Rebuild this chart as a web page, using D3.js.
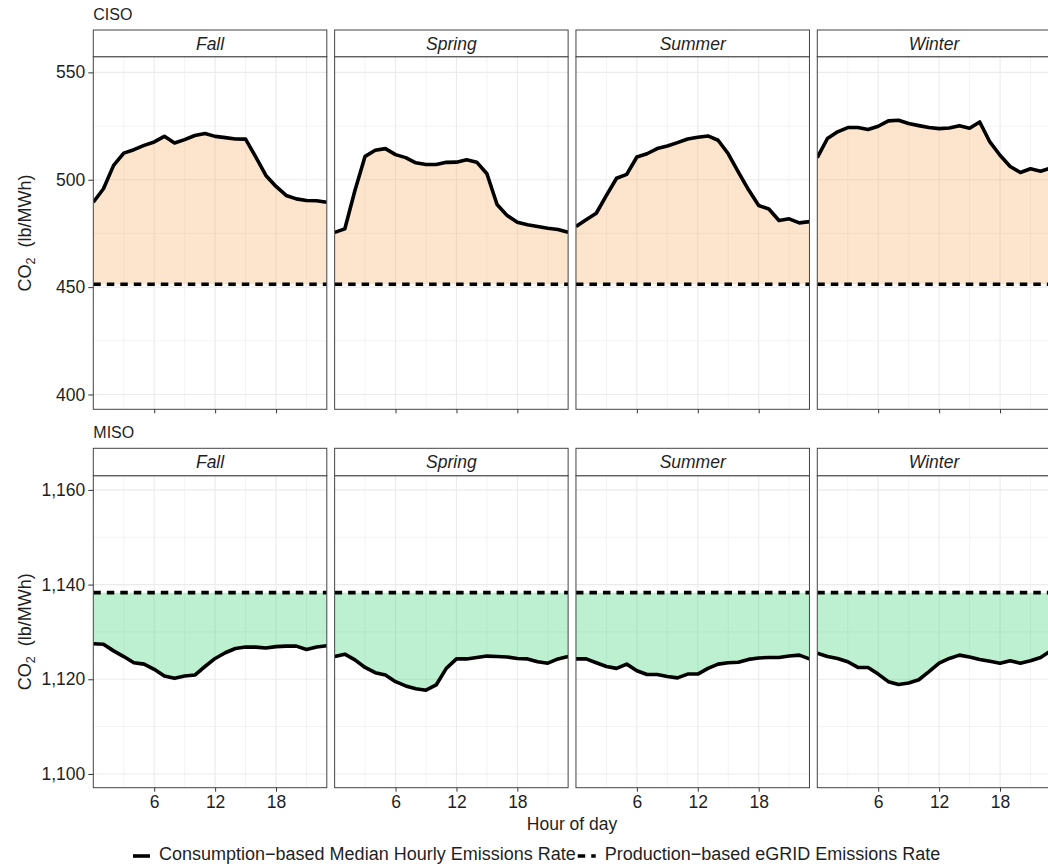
<!DOCTYPE html>
<html><head><meta charset="utf-8">
<script src="https://cdn.jsdelivr.net/npm/d3@7"></script>
<style>
body{margin:0;background:#fff}
text{font-family:"Liberation Sans",Arial,Helvetica,sans-serif}
</style>
</head><body>
<svg id="c" width="1048" height="866"></svg>
<script>
// ---------------- data ----------------
const hours = [0,1,2,3,4,5,6,7,8,9,10,11,12,13,14,15,16,17,18,19,20,21,22,23];
const seasons = ["Fall","Spring","Summer","Winter"];
const xTickLabels = [6,12,18];

const cisoFall   = [489.5,495.8,506.7,512.4,514.0,516.0,517.6,520.2,517.1,518.7,520.6,521.5,520.2,519.6,519.0,518.9,510.6,502.0,496.9,492.7,491.1,490.3,490.2,489.5];
const cisoSpring = [475.5,477.1,495.0,510.9,513.7,514.5,511.7,510.3,507.9,507.1,507.1,508.1,508.2,509.3,508.2,502.8,488.5,483.3,480.2,479.0,478.2,477.4,476.8,475.5];
const cisoSummer = [478.2,481.4,484.4,492.7,500.7,502.5,510.6,512.1,514.5,515.7,517.3,519.0,519.8,520.4,518.4,512.1,503.6,495.3,488.0,486.4,481.0,481.8,479.9,480.5];
const cisoWinter = [510.3,519.2,522.3,524.3,524.3,523.4,524.9,527.4,527.7,526.2,525.2,524.3,523.8,524.1,525.2,524.0,526.9,517.6,511.4,506.2,503.4,505.1,504.0,505.4];
const cisoEgrid = 451.3;
const cisoYTicks = [400,450,500,550];

const misoFall   = [1127.5,1127.4,1126.0,1124.8,1123.5,1123.2,1122.1,1120.7,1120.2,1120.7,1120.9,1122.7,1124.4,1125.6,1126.5,1126.8,1126.8,1126.6,1126.9,1127.0,1127.0,1126.3,1126.8,1127.1];
const misoSpring = [1124.8,1125.3,1124.1,1122.5,1121.4,1120.9,1119.5,1118.6,1118.0,1117.7,1118.8,1122.3,1124.3,1124.3,1124.6,1124.9,1124.8,1124.7,1124.4,1124.3,1123.7,1123.4,1124.3,1124.8];
const misoSummer = [1124.3,1124.3,1123.5,1122.7,1122.3,1123.2,1121.8,1121.0,1121.0,1120.6,1120.3,1121.1,1121.1,1122.3,1123.2,1123.5,1123.6,1124.2,1124.5,1124.6,1124.6,1124.9,1125.1,1124.3];
const misoWinter = [1125.5,1124.8,1124.4,1123.7,1122.5,1122.5,1121.1,1119.5,1118.9,1119.2,1119.9,1121.6,1123.4,1124.4,1125.1,1124.7,1124.2,1123.8,1123.4,1123.9,1123.4,1123.9,1124.6,1126.0];
const misoEgrid = 1138.3;
const misoYTicks = [1100,1120,1140,1160];

const legendLabels = ["Consumption\u2212based Median Hourly Emissions Rate","Production\u2212based eGRID Emissions Rate"];

// ---------------- layout ----------------
const svg = d3.select("#c");
const FONT = 17.5;
const LEGFONT = 18;
const TXT = "#1f1f1f";
const panelLeft0 = 93.3, panelStep = 241.33, panelW = 233.5;

const rows = [
  {title:"CISO", stripTop:30, panelTop:56.7, panelBottom:409.3, domain:[393.1,557.3],
   ticks:cisoYTicks, fmt:d3.format("d"), series:[cisoFall,cisoSpring,cisoSummer,cisoWinter],
   egrid:cisoEgrid, fill:"#F5A855", xLabels:false},
  {title:"MISO", stripTop:448.3, panelTop:475.7, panelBottom:787.7, domain:[1097.1,1163.0],
   ticks:misoYTicks, fmt:d3.format(","), series:[misoFall,misoSpring,misoSummer,misoWinter],
   egrid:misoEgrid, fill:"#26CD62", xLabels:true}
];

const defs = svg.append("defs");

rows.forEach((row, ri) => {
  const y = d3.scaleLinear().domain(row.domain).range([row.panelBottom, row.panelTop]);
  const minorY = [];
  for (let i = 0; i < row.ticks.length - 1; i++) minorY.push((row.ticks[i] + row.ticks[i+1]) / 2);

  svg.append("text").attr("x", panelLeft0).attr("y", row.stripTop - 10)
    .attr("font-size", 16).attr("fill", TXT).text(row.title);

  seasons.forEach((s, si) => {
    const left = panelLeft0 + si * panelStep;
    const x = d3.scaleLinear().domain([hours[0], hours[hours.length-1]]).range([left, left + panelW]);
    const minorX = [];
    for (let i = 0; i < xTickLabels.length; i++) minorX.push(xTickLabels[i] - 3);
    minorX.push(xTickLabels[xTickLabels.length-1] + 3);

    const g = svg.append("g");
    const clipId = "clip" + ri + "_" + si;
    defs.append("clipPath").attr("id", clipId).append("rect")
      .attr("x", left).attr("y", row.panelTop).attr("width", panelW).attr("height", row.panelBottom - row.panelTop);

    const pg = g.append("g").attr("clip-path", `url(#${clipId})`);
    pg.append("rect").attr("x", left).attr("y", row.panelTop).attr("width", panelW)
      .attr("height", row.panelBottom - row.panelTop).attr("fill", "#fff");
    pg.selectAll(".mny").data(minorY).join("line")
      .attr("x1", left).attr("x2", left + panelW).attr("y1", d => y(d)).attr("y2", d => y(d))
      .attr("stroke", "#EBEBEB").attr("stroke-width", 0.6);
    pg.selectAll(".mnx").data(minorX).join("line")
      .attr("y1", row.panelTop).attr("y2", row.panelBottom).attr("x1", d => x(d)).attr("x2", d => x(d))
      .attr("stroke", "#EBEBEB").attr("stroke-width", 0.6);
    pg.selectAll(".mjy").data(row.ticks).join("line")
      .attr("x1", left).attr("x2", left + panelW).attr("y1", d => y(d)).attr("y2", d => y(d))
      .attr("stroke", "#EBEBEB").attr("stroke-width", 1.1);
    pg.selectAll(".mjx").data(xTickLabels).join("line")
      .attr("y1", row.panelTop).attr("y2", row.panelBottom).attr("x1", d => x(d)).attr("x2", d => x(d))
      .attr("stroke", "#EBEBEB").attr("stroke-width", 1.1);

    const vals = row.series[si];
    const pts = hours.map((h, i) => ({h, v: vals[i]}));
    const area = d3.area().x(d => x(d.h)).y0(() => y(row.egrid)).y1(d => y(d.v));
    pg.append("path").datum(pts).attr("d", area).attr("fill", row.fill).attr("fill-opacity", 0.3);
    pg.append("line").attr("x1", left).attr("x2", left + panelW)
      .attr("y1", y(row.egrid)).attr("y2", y(row.egrid))
      .attr("stroke", "#000").attr("stroke-width", 3.6).attr("stroke-dasharray", "7.5,6");
    const line = d3.line().x(d => x(d.h)).y(d => y(d.v));
    pg.append("path").datum(pts).attr("d", line).attr("fill", "none")
      .attr("stroke", "#000").attr("stroke-width", 3.6).attr("stroke-linejoin", "round").attr("stroke-linecap", "butt");

    g.append("rect").attr("x", left).attr("y", row.panelTop).attr("width", panelW)
      .attr("height", row.panelBottom - row.panelTop).attr("fill", "none").attr("stroke", "#444").attr("stroke-width", 1);
    g.append("rect").attr("x", left).attr("y", row.stripTop).attr("width", panelW)
      .attr("height", row.panelTop - row.stripTop).attr("fill", "#fff").attr("stroke", "#444").attr("stroke-width", 1);
    g.append("text").attr("x", left + panelW / 2).attr("y", row.stripTop + 19.5)
      .attr("text-anchor", "middle").attr("font-size", FONT).attr("font-style", "italic")
      .attr("fill", TXT).text(s);

    const xa = d3.axisBottom(x).tickValues(xTickLabels).tickSize(4).tickPadding(4)
      .tickFormat(row.xLabels ? d3.format("d") : () => "");
    const xg = svg.append("g").attr("transform", `translate(0,${row.panelBottom})`).call(xa);
    xg.select(".domain").remove();
    xg.selectAll(".tick line").attr("stroke", "#333");
    xg.selectAll(".tick text").attr("font-size", FONT).attr("fill", TXT)
      .attr("font-family", "'Liberation Sans',Arial,sans-serif");

    if (si === 0) {
      const ya = d3.axisLeft(y).tickValues(row.ticks).tickSize(5).tickPadding(3).tickFormat(row.fmt);
      const yg = svg.append("g").attr("transform", `translate(${left},0)`).call(ya);
      yg.select(".domain").remove();
      yg.selectAll(".tick line").attr("stroke", "#333");
      yg.selectAll(".tick text").attr("font-size", FONT).attr("fill", TXT)
        .attr("font-family", "'Liberation Sans',Arial,sans-serif");
    }
  });

  const cy = (row.panelTop + row.panelBottom) / 2;
  const t = svg.append("text").attr("transform", `translate(31,${cy}) rotate(-90)`)
    .attr("text-anchor", "middle").attr("font-size", 18).attr("fill", TXT);
  t.append("tspan").text("CO");
  t.append("tspan").attr("font-size", 12.5).attr("dy", 4).text("2");
  t.append("tspan").attr("dy", -4).text("\u00a0\u00a0(lb/MWh)");
});

svg.append("text").attr("x", (panelLeft0 + panelLeft0 + 3 * panelStep + panelW) / 2).attr("y", 830)
  .attr("text-anchor", "middle").attr("font-size", 17.5).attr("fill", TXT).text("Hour of day");

// legend
const lg = svg.append("g");
const keyY = 856, baseY = 860;
let lx = 133;
lg.append("line").attr("x1", lx).attr("x2", lx + 17).attr("y1", keyY).attr("y2", keyY)
  .attr("stroke", "#000").attr("stroke-width", 3.6);
const t1 = lg.append("text").attr("x", lx + 26).attr("y", baseY).attr("font-size", LEGFONT)
  .attr("fill", TXT).text(legendLabels[0]);
lx = lx + 26 + t1.node().getComputedTextLength() + 2;
lg.append("line").attr("x1", lx).attr("x2", lx + 18).attr("y1", keyY).attr("y2", keyY)
  .attr("stroke", "#000").attr("stroke-width", 3.6).attr("stroke-dasharray", "7.5,6");
lg.append("text").attr("x", lx + 27).attr("y", baseY).attr("font-size", LEGFONT)
  .attr("fill", TXT).text(legendLabels[1]);
</script>
</body></html>
